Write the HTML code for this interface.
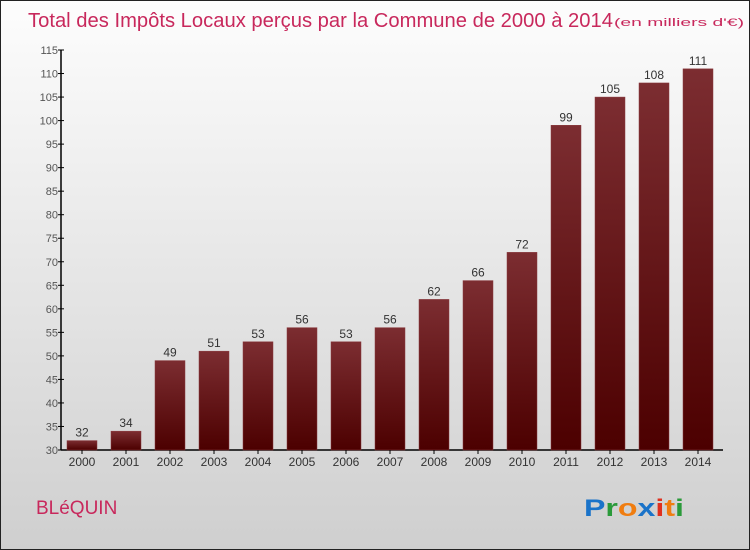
<!DOCTYPE html>
<html><head><meta charset="utf-8"><style>
body{margin:0;}
#c{width:748px;height:548px;border:1px solid #222;background:linear-gradient(#fdfdfd,#cfcfcf);position:relative;overflow:hidden;font-family:"Liberation Sans",sans-serif;}
</style></head><body>
<div id="c">
<svg width="748" height="548" xmlns="http://www.w3.org/2000/svg" id="svg">
<defs><linearGradient id="bg" x1="0" y1="0" x2="0" y2="1"><stop offset="0" stop-color="#7c2d31"/><stop offset="1" stop-color="#4c0000"/></linearGradient></defs>
<text x="27" y="26" font-size="20" fill="#c8285c" textLength="585" lengthAdjust="spacingAndGlyphs">Total des Impôts Locaux perçus par la Commune de 2000 à 2014</text>
<text x="613" y="25" font-size="11" fill="#c8285c" textLength="130" lengthAdjust="spacingAndGlyphs">(en milliers d'€)</text>
<text x="35" y="513" font-size="19" fill="#c8285c">BLéQUIN</text>
<text x="583" y="515" font-size="24" font-weight="bold" textLength="100" lengthAdjust="spacingAndGlyphs"><tspan fill="#1a73c9">P</tspan><tspan fill="#2a9a3a">r</tspan><tspan fill="#f07d10">o</tspan><tspan fill="#1a73c9">x</tspan><tspan fill="#e0301e">i</tspan><tspan fill="#f07d10">t</tspan><tspan fill="#2a9a3a">i</tspan></text>
<g id="plot"></g>
</svg>
</div>
<script>
const years=["2000","2001","2002","2003","2004","2005","2006","2007","2008","2009","2010","2011","2012","2013","2014"];
const values=[32,34,49,51,53,56,53,56,62,66,72,99,105,108,111];
const ticks=[30,35,40,45,50,55,60,65,70,75,80,85,90,95,100,105,110,115];
const ns="http://www.w3.org/2000/svg";
const g=document.getElementById('plot');
const y0=449,yMin=30,yMax=115,yTop=49;
const y=v=>y0-(v-yMin)*(y0-yTop)/(yMax-yMin);
const x=i=>66+i*44;
function mk(t,a){const e=document.createElementNS(ns,t);for(const k in a)e.setAttribute(k,a[k]);g.appendChild(e);return e;}
let e=mk('line',{x1:60,y1:yTop,x2:60,y2:y0,stroke:'#000','stroke-width':1.5});


e=mk('line',{x1:60,y1:y0,x2:722,y2:y0,stroke:'#000','stroke-width':1.5});


ticks.forEach(t=>{
 const tl=mk('line',{x1:57,y1:y(t),x2:63,y2:y(t),stroke:'#000'});
 
 
 const tx=mk('text',{x:57,y:y(t)+4,'text-anchor':'end','font-size':11,fill:'#555'});
 tx.textContent=t;
 
 
});
values.forEach((v,i)=>{
 const r=mk('rect',{x:x(i),y:y(v),width:30,height:y0-y(v),fill:'url(#bg)',stroke:'#8a3a3e','stroke-width':0.5});
 
 
 const l=mk('text',{x:x(i)+15,y:y(v)-4,'text-anchor':'middle','font-size':12,fill:'#333'});
 l.textContent=v;
 
 
 const tl=mk('line',{x1:x(i)+15,y1:y0,x2:x(i)+15,y2:y0+4,stroke:'#000'});
 
 
 const xl=mk('text',{x:x(i)+15,y:y0+16,'text-anchor':'middle','font-size':12,fill:'#333'});
 xl.textContent=years[i];
 
 
});
</script>
</body></html>
